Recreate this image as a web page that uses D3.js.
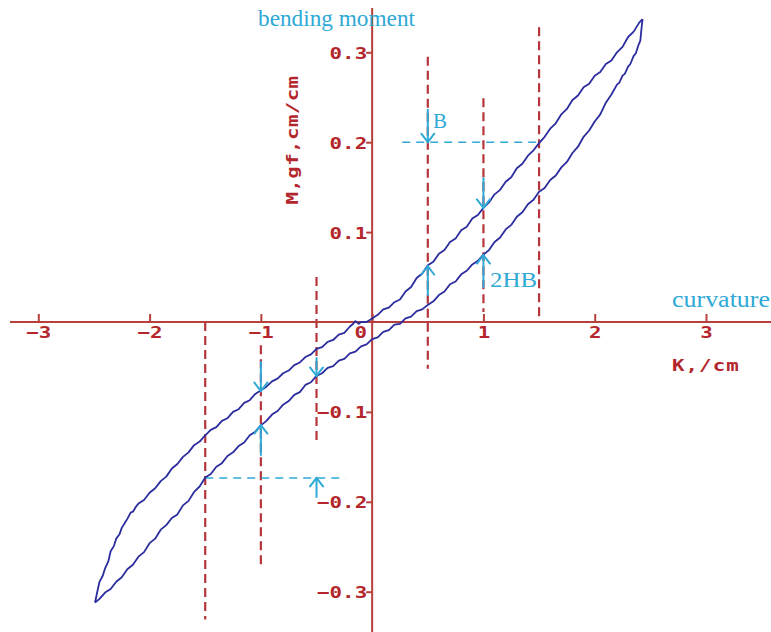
<!DOCTYPE html>
<html>
<head>
<meta charset="utf-8">
<script src="https://cdn.jsdelivr.net/npm/d3@7"></script>
<style>
  html, body { margin: 0; padding: 0; background: #fff; }
  svg { display: block; }
</style>
</head>
<body>
<svg id="chart" width="771" height="632"></svg>
<script>
// Bending hysteresis loop: moment M (gf·cm/cm) against curvature K (1/cm)
const xTicks = [-3, -2, -1, 0, 1, 2, 3];
const yTicks = [-0.3, -0.2, -0.1, 0.1, 0.2, 0.3];

// Loading branch, lower-left tip up to upper-right tip [K, M]
const upperBranch = [
  [-2.49,-0.312],[-2.47,-0.300],[-2.45,-0.289],[-2.42,-0.282],[-2.40,-0.274],[-2.37,-0.266],
  [-2.35,-0.255],[-2.32,-0.249],[-2.30,-0.241],[-2.27,-0.236],[-2.25,-0.229],[-2.22,-0.223],
  [-2.20,-0.219],[-2.17,-0.212],[-2.15,-0.211],[-2.12,-0.205],[-2.10,-0.202],[-2.05,-0.198],
  [-2.00,-0.190],[-1.95,-0.185],[-1.90,-0.177],[-1.85,-0.172],[-1.80,-0.163],[-1.75,-0.158],
  [-1.70,-0.150],[-1.65,-0.145],[-1.60,-0.137],[-1.55,-0.133],[-1.50,-0.126],[-1.45,-0.120],
  [-1.40,-0.117],[-1.35,-0.110],[-1.30,-0.107],[-1.25,-0.100],[-1.20,-0.097],[-1.15,-0.090],
  [-1.10,-0.087],[-1.05,-0.080],[-1.00,-0.076],[-0.95,-0.072],[-0.90,-0.066],[-0.85,-0.063],
  [-0.80,-0.057],[-0.75,-0.054],[-0.70,-0.048],[-0.65,-0.045],[-0.60,-0.039],[-0.55,-0.036],
  [-0.50,-0.030],[-0.45,-0.028],[-0.40,-0.022],[-0.35,-0.020],[-0.30,-0.014],[-0.25,-0.012],
  [-0.20,-0.005],[-0.17,-0.002],[-0.15,0.001],[-0.12,-0.002],[-0.10,0.000],[-0.05,0.000],
  [0.00,0.004],[0.05,0.008],[0.10,0.014],[0.15,0.016],[0.20,0.022],[0.25,0.025],
  [0.30,0.034],[0.35,0.039],[0.40,0.049],[0.45,0.054],[0.50,0.063],[0.55,0.067],
  [0.60,0.076],[0.65,0.080],[0.70,0.089],[0.75,0.093],[0.80,0.102],[0.85,0.106],
  [0.90,0.115],[0.95,0.119],[1.00,0.127],[1.05,0.133],[1.10,0.142],[1.15,0.147],
  [1.20,0.156],[1.25,0.161],[1.30,0.171],[1.35,0.176],[1.40,0.185],[1.45,0.191],
  [1.50,0.199],[1.55,0.206],[1.60,0.215],[1.65,0.221],[1.70,0.231],[1.75,0.237],
  [1.80,0.247],[1.85,0.252],[1.90,0.261],[1.95,0.265],[2.00,0.274],[2.05,0.278],
  [2.10,0.287],[2.15,0.291],[2.20,0.300],[2.25,0.306],[2.30,0.317],[2.35,0.323],
  [2.40,0.333],[2.43,0.337]
];

// Unloading branch, upper-right tip back down to lower-left tip [K, M]
const lowerBranch = [
  [2.43,0.337],[2.42,0.326],[2.41,0.313],[2.39,0.307],[2.37,0.299],[2.35,0.296],
  [2.32,0.287],[2.30,0.284],[2.27,0.276],[2.25,0.274],[2.22,0.266],[2.20,0.264],
  [2.15,0.253],[2.10,0.244],[2.05,0.231],[2.00,0.223],[1.95,0.213],[1.90,0.206],
  [1.85,0.195],[1.80,0.188],[1.75,0.178],[1.70,0.172],[1.65,0.163],[1.60,0.158],
  [1.55,0.149],[1.50,0.145],[1.45,0.136],[1.40,0.131],[1.35,0.122],[1.30,0.117],
  [1.25,0.108],[1.20,0.103],[1.15,0.094],[1.10,0.089],[1.05,0.080],[1.00,0.075],
  [0.95,0.068],[0.90,0.064],[0.85,0.057],[0.80,0.053],[0.75,0.045],[0.70,0.042],
  [0.65,0.034],[0.60,0.030],[0.55,0.023],[0.50,0.019],[0.45,0.014],[0.40,0.012],
  [0.35,0.006],[0.30,0.004],[0.25,-0.002],[0.20,-0.003],[0.15,-0.009],[0.10,-0.011],
  [0.05,-0.017],[0.00,-0.019],[-0.05,-0.025],[-0.10,-0.027],[-0.15,-0.033],[-0.20,-0.035],
  [-0.25,-0.041],[-0.30,-0.043],[-0.35,-0.049],[-0.40,-0.051],[-0.45,-0.057],[-0.50,-0.060],
  [-0.55,-0.067],[-0.60,-0.070],[-0.65,-0.078],[-0.70,-0.081],[-0.75,-0.088],[-0.80,-0.092],
  [-0.85,-0.099],[-0.90,-0.103],[-0.95,-0.110],[-1.00,-0.115],[-1.05,-0.122],[-1.10,-0.126],
  [-1.15,-0.134],[-1.20,-0.138],[-1.25,-0.145],[-1.30,-0.149],[-1.35,-0.157],[-1.40,-0.161],
  [-1.45,-0.169],[-1.50,-0.173],[-1.55,-0.183],[-1.60,-0.189],[-1.65,-0.199],[-1.70,-0.204],
  [-1.75,-0.214],[-1.80,-0.218],[-1.85,-0.226],[-1.90,-0.231],[-1.95,-0.241],[-2.00,-0.246],
  [-2.05,-0.256],[-2.10,-0.261],[-2.15,-0.270],[-2.20,-0.275],[-2.25,-0.284],[-2.30,-0.289],
  [-2.35,-0.297],[-2.40,-0.301],[-2.45,-0.308],[-2.49,-0.312]
];

// Reference verticals at K = ±0.5, ±1, ±1.5 [K, Mtop, Mbottom]
const guideLines = [
  [-1.5, 0.000, -0.331],
  [-1.0, -0.026, -0.270],
  [-0.5, 0.050, -0.135],
  [0.5, 0.295, -0.052],
  [1.0, 0.249, 0.011],
  [1.5, 0.328, 0.000]
];

// Horizontal levels read at M = 0.2 and its counterpart [M, Kstart, Kend]
const levelLines = [
  [0.200, 0.27, 1.5],
  [-0.1735, -1.5, -0.24]
];

// Arrows marking the branch values [K, Mtail, Mtip]
const arrows = [
  [0.5, 0.236, 0.200],
  [1.0, 0.160, 0.127],
  [0.5, 0.030, 0.062],
  [1.0, 0.039, 0.0745],
  [-1.0, -0.0445, -0.0768],
  [-0.5, -0.040, -0.060],
  [-1.0, -0.148, -0.1146],
  [-0.5, -0.1947, -0.1735]
];

const svg = d3.select("#chart");
const W = 771, H = 632;

const x = d3.scaleLinear().domain([-3, 3]).range([38.3, 706]);
const y = d3.scaleLinear().domain([-0.3, 0.3]).range([591.7, 52.3]);

const red = "#b3272c";
const axisRed = "#b8403c";
const cyan = "#2fa9d6";
const blue = "#2c2c9e";
const monoFont = "'DejaVu Sans Mono', 'Liberation Mono', monospace";
const serifFont = "'Liberation Serif', 'DejaVu Serif', serif";

// dashed verticals
svg.append("g").selectAll("line").data(guideLines).join("line")
  .attr("x1", d => x(d[0])).attr("x2", d => x(d[0]))
  .attr("y1", d => y(d[1])).attr("y2", d => y(d[2]))
  .attr("stroke", "#b5353a").attr("stroke-width", 2.2)
  .attr("stroke-dasharray", "9,5");

// dashed horizontal levels
svg.append("g").selectAll("line").data(levelLines).join("line")
  .attr("x1", d => x(d[1])).attr("x2", d => x(d[2]))
  .attr("y1", d => y(d[0])).attr("y2", d => y(d[0]))
  .attr("stroke", cyan).attr("stroke-width", 1.6)
  .attr("stroke-dasharray", "8,6");

// axes lines through the origin
svg.append("line")
  .attr("x1", 10).attr("x2", W).attr("y1", y(0)).attr("y2", y(0))
  .attr("stroke", axisRed).attr("stroke-width", 2);
svg.append("line")
  .attr("x1", x(0)).attr("x2", x(0)).attr("y1", 8).attr("y2", H)
  .attr("stroke", axisRed).attr("stroke-width", 2);

// x axis ticks and labels
const xAxis = d3.axisBottom(x).tickValues(xTicks)
  .tickSizeInner(-8).tickSizeOuter(0).tickPadding(0)
  .tickFormat(d3.format("d"));
const gx = svg.append("g").attr("transform", `translate(0,${y(0)})`).call(xAxis);
gx.select(".domain").remove();
gx.selectAll(".tick line").attr("stroke", axisRed).attr("stroke-width", 2);
gx.selectAll(".tick text")
  .attr("y", 0).attr("dy", 0)
  .attr("transform", d => `translate(${d === 0 ? -12 : 0},16) scale(1.3,1)`)
  .attr("fill", red)
  .style("font-family", monoFont).style("font-weight", "bold").style("font-size", "16px");

// y axis ticks and labels
const yAxis = d3.axisLeft(y).tickValues(yTicks)
  .tickSizeInner(6).tickSizeOuter(0).tickPadding(0)
  .tickFormat(d3.format(".1f"));
const gy = svg.append("g").attr("transform", `translate(${x(0)},0)`).call(yAxis);
gy.select(".domain").remove();
gy.selectAll(".tick line").attr("stroke", axisRed).attr("stroke-width", 2);
gy.selectAll(".tick text")
  .attr("x", 0).attr("dy", 0).attr("y", 0)
  .attr("transform", "translate(-5,6) scale(1.3,1)")
  .attr("fill", red)
  .style("font-family", monoFont).style("font-weight", "bold").style("font-size", "16px");

// hysteresis loop
const line = d3.line().x(d => x(d[0])).y(d => y(d[1])).curve(d3.curveLinear);
[upperBranch, lowerBranch].forEach(b => {
  svg.append("path").attr("d", line(b))
    .attr("fill", "none").attr("stroke", blue)
    .attr("stroke-width", 1.8).attr("stroke-linejoin", "round");
});

// arrows
const ag = svg.append("g").attr("stroke", cyan).attr("stroke-width", 2)
  .attr("fill", "none").attr("stroke-linecap", "round");
arrows.forEach(([k, m0, m1]) => {
  const px = x(k), yt = y(m0), yh = y(m1);
  const dir = yh > yt ? 1 : -1;
  ag.append("line").attr("x1", px).attr("x2", px).attr("y1", yt).attr("y2", yh);
  ag.append("path").attr("d",
    `M${px - 6.5},${yh - dir * 8.5}L${px},${yh}L${px + 6.5},${yh - dir * 8.5}`);
});

// axis titles
svg.append("text")
  .attr("transform", "translate(672,371) scale(1.3,1)")
  .attr("fill", red).style("font-family", monoFont).style("font-weight", "bold")
  .style("font-size", "16px").style("letter-spacing", "0.8px")
  .text("K,/cm");
svg.append("text")
  .attr("transform", "translate(298,140) rotate(-90) scale(1.3,1)")
  .attr("text-anchor", "middle")
  .attr("fill", red).style("font-family", monoFont).style("font-weight", "bold")
  .style("font-size", "16px").style("letter-spacing", "0.3px")
  .text("M,gf,cm/cm");

// annotations
const note = (tx, ty, s, size, len) => svg.append("text")
  .attr("x", tx).attr("y", ty)
  .attr("textLength", len).attr("lengthAdjust", "spacingAndGlyphs")
  .attr("fill", cyan).style("font-family", serifFont).style("font-size", size + "px")
  .text(s);
note(258, 26, "bending moment", 23, 157);
note(672, 307, "curvature", 23, 98);
note(433, 128, "B", 21, 14);
note(490, 287, "2HB", 22, 47);
</script>
</body>
</html>
